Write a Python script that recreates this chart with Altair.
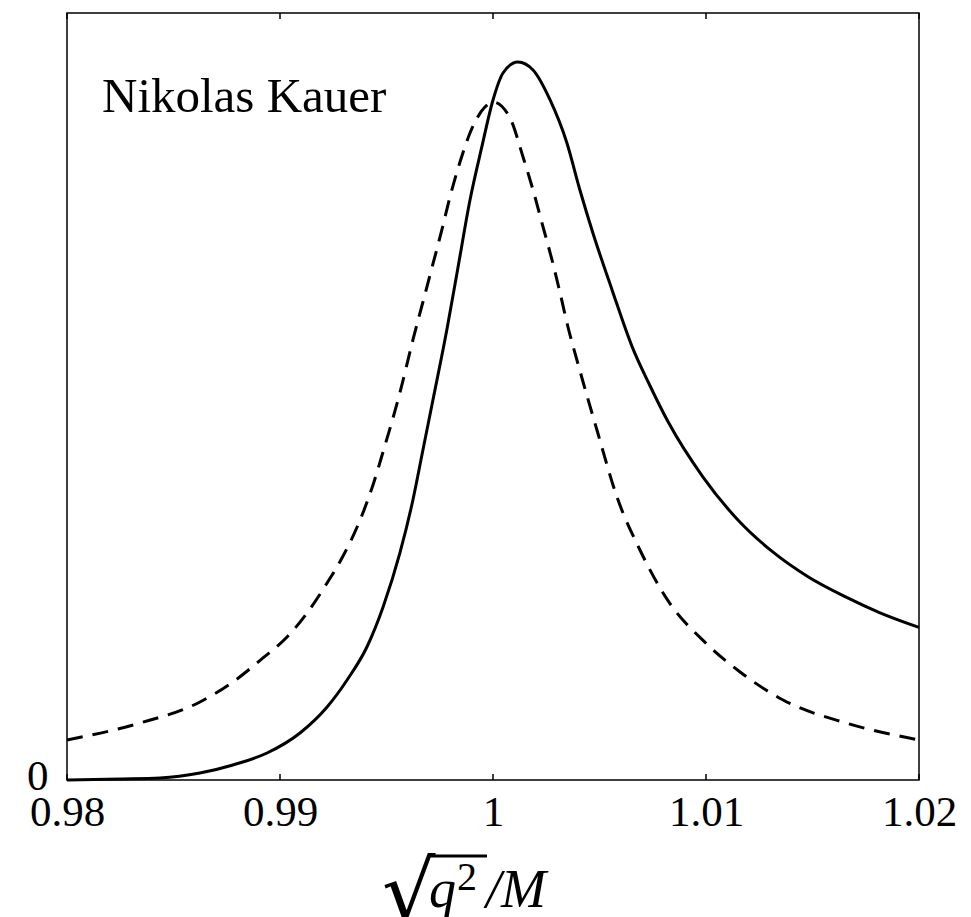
import altair as alt
import pandas as pd

# Solid curve
solid_x = [0.98000, 0.98249, 0.98437, 0.98624, 0.98779, 0.98939, 0.99094, 0.99221,
           0.99315, 0.99408, 0.99484, 0.99563, 0.99624, 0.99671, 0.99718, 0.99784,
           0.99836, 0.99892, 0.99948, 1.00000, 1.00047, 1.00117, 1.00188, 1.00268,
           1.00347, 1.00408, 1.00469, 1.00559, 1.00653, 1.00737, 1.00822, 1.00986,
           1.01150, 1.01315, 1.01479, 1.01653, 1.01817, 1.02000]
solid_y = [0.0, 0.0013, 0.0026, 0.0091, 0.0196, 0.0352, 0.0613, 0.0952,
           0.1304, 0.1734, 0.2256, 0.2960, 0.3651, 0.4302, 0.4954, 0.588,
           0.6688, 0.7562, 0.826, 0.8866, 0.9218, 0.9361, 0.9257, 0.8866,
           0.8305, 0.7692, 0.7132, 0.639, 0.565, 0.514, 0.467, 0.395,
           0.339, 0.297, 0.265, 0.239, 0.218, 0.199]

# Dashed curve
dashed_x = [0.98000, 0.98343, 0.98624, 0.98779, 0.98920, 0.99033, 0.99127, 0.99221,
            0.99296, 0.99376, 0.99437, 0.99484, 0.99563, 0.99624, 0.99671, 0.99718,
            0.99761, 0.99798, 0.99845, 0.99892, 0.99962, 1.00000, 1.00080, 1.00141,
            1.00188, 1.00235, 1.00277, 1.00315, 1.00352, 1.00394, 1.00488, 1.00582,
            1.00690, 1.00831, 1.00986, 1.01160, 1.01362, 1.01657, 1.02000]
dashed_y = [0.0522, 0.0743, 0.1017, 0.1278, 0.1591, 0.1864, 0.2177, 0.2568,
            0.292, 0.339, 0.385, 0.428, 0.505, 0.5737, 0.6232, 0.6728,
            0.7184, 0.7601, 0.8057, 0.8435, 0.8774, 0.8840, 0.8631, 0.8123,
            0.7692, 0.7210, 0.6780, 0.6349, 0.5906, 0.5476, 0.4563, 0.3690,
            0.2999, 0.230, 0.182, 0.1408, 0.1043, 0.0743, 0.0522]

x_ticks = [0.98, 0.99, 1.0, 1.01, 1.02]
y_ticks = [0]

FONT = "Liberation Serif, Times New Roman, serif"
W, H = 852, 767

solid = pd.DataFrame({"x": solid_x, "y": solid_y})
dashed = pd.DataFrame({"x": dashed_x, "y": dashed_y})
ticks = pd.DataFrame({"x": x_ticks})

xscale = alt.Scale(domain=[0.98, 1.02], nice=False, zero=False)
yscale = alt.Scale(domain=[0, 1], nice=False)

xaxis = alt.Axis(values=x_ticks, labelExpr="datum.value == 1 ? '1' : format(datum.value, '.2f')",
                 tickSize=0, domain=False, grid=False, labelFont=FONT, labelFontSize=43,
                 labelColor="black", labelPadding=11, labelFlush=False, title=None)
yaxis = alt.Axis(values=y_ticks, tickSize=0, domain=False, grid=False, labelFont=FONT,
                 labelFontSize=43, labelColor="black", labelPadding=19, labelOffset=-4,
                 title=None)

X = alt.X("x:Q", scale=xscale, axis=xaxis)
Y = alt.Y("y:Q", scale=yscale, axis=yaxis)

line_dashed = alt.Chart(dashed).mark_line(color="black", strokeWidth=3, strokeDash=[16, 10],
                                          interpolate="monotone").encode(x=X, y=Y)
line_solid = alt.Chart(solid).mark_line(color="black", strokeWidth=3,
                                        interpolate="monotone").encode(x=X, y=Y)

ticks_bottom = alt.Chart(ticks).mark_rule(color="black", strokeWidth=1.5).encode(
    x=X, y=alt.value(H), y2=alt.value(H - 6))
ticks_top = alt.Chart(ticks).mark_rule(color="black", strokeWidth=1.5).encode(
    x=X, y=alt.value(0), y2=alt.value(6))

author = alt.Chart(pd.DataFrame({"t": ["Nikolas Kauer"]})).mark_text(
    font=FONT, fontSize=49, align="left", baseline="alphabetic", color="black"
).encode(text="t:N", x=alt.value(35), y=alt.value(99))

sqrt_sign = alt.Chart(pd.DataFrame({"t": ["√"]})).mark_text(
    font="DejaVu Serif", fontSize=84, align="left", baseline="alphabetic", color="black"
).encode(text="t:N", x=alt.value(315), y=alt.value(908))

q_text = alt.Chart(pd.DataFrame({"t": ["q"]})).mark_text(
    font=FONT, fontSize=54, fontStyle="italic", align="left", baseline="alphabetic", color="black"
).encode(text="t:N", x=alt.value(362), y=alt.value(894))

sup_text = alt.Chart(pd.DataFrame({"t": ["2"]})).mark_text(
    font=FONT, fontSize=40, align="left", baseline="alphabetic", color="black"
).encode(text="t:N", x=alt.value(390), y=alt.value(877))

m_text = alt.Chart(pd.DataFrame({"t": ["/M"]})).mark_text(
    font=FONT, fontSize=54, fontStyle="italic", align="left", baseline="alphabetic", color="black"
).encode(text="t:N", x=alt.value(419), y=alt.value(894))

overline = alt.Chart(pd.DataFrame({"a": [0]})).mark_rule(color="black", strokeWidth=3).encode(
    x=alt.value(362), x2=alt.value(420), y=alt.value(843))

chart = alt.layer(
    line_dashed, line_solid, ticks_bottom, ticks_top, author,
    sqrt_sign, q_text, sup_text, m_text, overline
).properties(
    width=W, height=H,
    autosize=alt.AutoSizeParams(type="none"),
    padding={"left": 59, "top": 5, "right": 44, "bottom": 137},
    background="white",
).configure_view(
    stroke="black", strokeWidth=1.5
)

chart.save("out.html", embed_options={"renderer": "svg", "actions": False})
